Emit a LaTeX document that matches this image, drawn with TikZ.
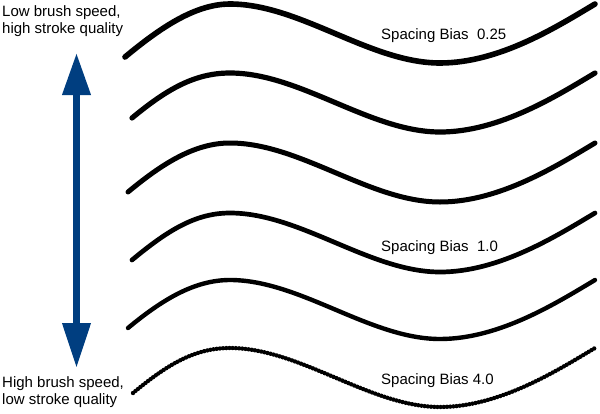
\documentclass[tikz,border=0pt]{standalone}
\usepackage{fontspec}
\setmainfont{Liberation Sans}
\usetikzlibrary{arrows.meta}
\definecolor{arrowblue}{RGB}{0,62,128}
\tikzset{
  wave/.style={line width=#1, line cap=round, line join=round, black},
  beads/.style={line width=4.4pt, line cap=round, dash pattern=on 0pt off 3.2pt, black},
  lbl/.style={font=\fontsize{15}{16.7}\selectfont, inner sep=0pt, anchor=base west, align=left},
  bigarrow/.style={draw=arrowblue, line width=7pt, {Triangle[length=42pt,width=27pt]}-{Triangle[length=45pt,width=27pt]}},
}
\begin{document}
\begin{tikzpicture}[x=1pt,y=-1pt]
\useasboundingbox (0,0) rectangle (600,413);
% waves
\foreach \p/\lx/\ld/\w in {4/125/53/5.6, 73/132/45/5.2, 143/128/49/5, 213/132/47/4.7, 280/128/48/4.4}{
  \draw[wave=\w pt] (\lx,\p+\ld) .. controls (\lx+35,\p+\ld-29) and (195,\p) .. (230,\p)
     .. controls (300,\p) and (370,\p+59) .. (440,\p+59)
     .. controls (500,\p+59) and (558,\p+22) .. (595,\p);
}
\draw[wave=2.2pt] (133,393) .. controls (168,364) and (195,348) .. (230,348)
     .. controls (300,348) and (370,407) .. (440,407)
     .. controls (500,407) and (558,370) .. (595,348);
\draw[beads] (133,393) .. controls (168,364) and (195,348) .. (230,348)
     .. controls (300,348) and (370,407) .. (440,407)
     .. controls (500,407) and (558,370) .. (595,348);
% labels
\node[lbl] (hq) at (2,33.3) {Low brush speed,\\high stroke quality};
\node[lbl] (lq) at (2,404) {High brush speed,\\low stroke quality};
\node[lbl] (b1) at (381,39.3) {Spacing Bias\space\space 0.25};
\node[lbl] (b2) at (381,251.5) {Spacing Bias\space\space 1.0};
\node[lbl] (b3) at (381,384) {Spacing Bias 4.0};
% arrow
\coordinate (atop) at (76.5,53);
\coordinate (abot) at (76.5,368);
\draw[bigarrow] (atop) -- (abot);
\end{tikzpicture}
\end{document}
